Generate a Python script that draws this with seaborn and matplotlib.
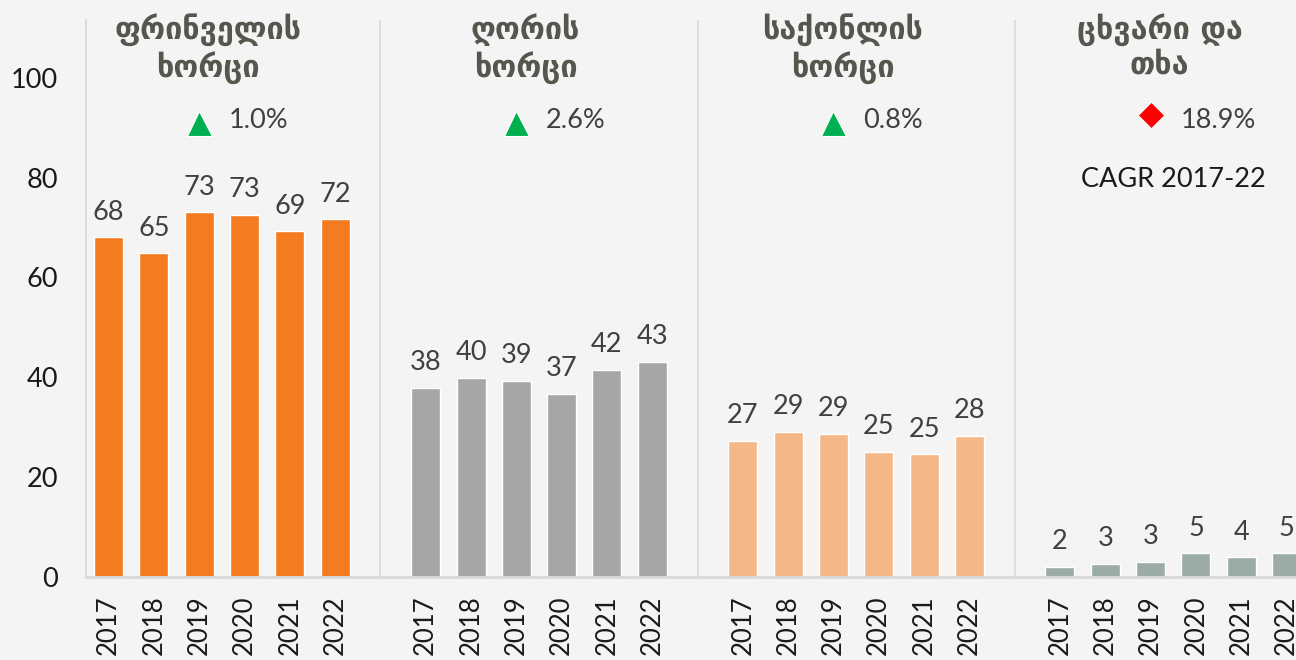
import pandas as pd
import matplotlib.pyplot as plt
import seaborn as sns

# data
years = ['2017', '2018', '2019', '2020', '2021', '2022']
groups = ['ფრინველის\nხორცი', 'ღორის\nხორცი', 'საქონლის\nხორცი', 'ცხვარი და\nთხა']
poultry = [68.1, 64.9, 73.1, 72.6, 69.3, 71.7]
pork = [37.9, 39.9, 39.3, 36.7, 41.5, 43.1]
beef = [27.3, 29.1, 28.7, 25.1, 24.6, 28.3]
sheep_goat = [2.0, 2.6, 3.0, 4.8, 4.0, 4.8]
cagr = ['1.0%', '2.6%', '0.8%', '18.9%']
cagr_up = [True, True, True, False]
colors = ['#F47B20', '#A6A6A6', '#F4B787', '#9AABA8']

bg = '#F4F4F4'
sns.set_theme(style='white')
plt.rcParams['font.family'] = ['Lato', 'DejaVu Sans']

# long table, one empty slot between groups
rows = []
for g, (name, vals) in enumerate(zip(groups, [poultry, pork, beef, sheep_goat])):
    for i, (yr, v) in enumerate(zip(years, vals)):
        rows.append({'pos': g * 7 + i, 'year': yr, 'value': v, 'group': name})
df = pd.DataFrame(rows)

fig = plt.figure(figsize=(12.96, 6.6), dpi=100, facecolor=bg)
left = 86 / 1296
ax = fig.add_axes([left, 0.1258, 1 - left, 0.844])
ax.set_facecolor(bg)

sns.barplot(data=df, x='pos', y='value', hue='group', palette=colors,
            saturation=1, native_scale=True, dodge=False, width=0.64,
            legend=False, edgecolor='white', linewidth=1, ax=ax)

ax.set_xlim(-0.5, -0.5 + (1296 - 86) / 45.3)
ax.set_ylim(0, 111.6)

# value labels
for _, r in df.iterrows():
    ax.annotate(f"{r['value']:.0f}", (r['pos'], r['value']), xytext=(0, 9),
                textcoords='offset points', ha='center', va='bottom',
                fontsize=19.5, color='#404040')

# separators
for g in range(4):
    ax.axvline(g * 7 - 1, ymin=0, ymax=1, color='#D9D9D9', lw=1.2, zorder=0)

# titles and CAGR
for g, name in enumerate(groups):
    ax.text(g * 7 + 2.2, 113.0, name, ha='center', va='top', fontsize=22,
            fontweight='bold', color='#56564F', linespacing=1.2,
            family='DejaVu Sans')
    if cagr_up[g]:
        ax.plot(g * 7 + 2, 91.0, marker='^', ms=18, color='#00B050', mec='white', mew=0.8)
    else:
        ax.plot(g * 7 + 2, 92.6, marker='D', ms=13, color='#FF0000', mec='white', mew=0.5)
    ax.text(g * 7 + 2.66, 91.4, cagr[g], ha='left', va='center', fontsize=19.5,
            color='#404040')
ax.text(3 * 7 + 2.5, 79.6, 'CAGR 2017-22', ha='center', va='center', fontsize=19.5,
        color='#1A1A1A')

ax.set_xticks(df['pos'])
ax.set_xticklabels(df['year'], rotation=90, fontsize=18.5, color='#1A1A1A')
ax.set_yticks(range(0, 101, 20))
ax.set_yticklabels([str(v) for v in range(0, 101, 20)], fontsize=19.5, color='#1A1A1A')
ax.tick_params(axis='x', length=0, pad=13)
ax.tick_params(axis='y', length=0, pad=20)
ax.set_xlabel('')
ax.set_ylabel('')
for s in ['top', 'right']:
    ax.spines[s].set_visible(False)
ax.spines['left'].set_color('#D9D9D9')
ax.spines['bottom'].set_color('#D9D9D9')
ax.spines['bottom'].set_linewidth(2)

fig.savefig('out.png', dpi=100, facecolor=bg)
